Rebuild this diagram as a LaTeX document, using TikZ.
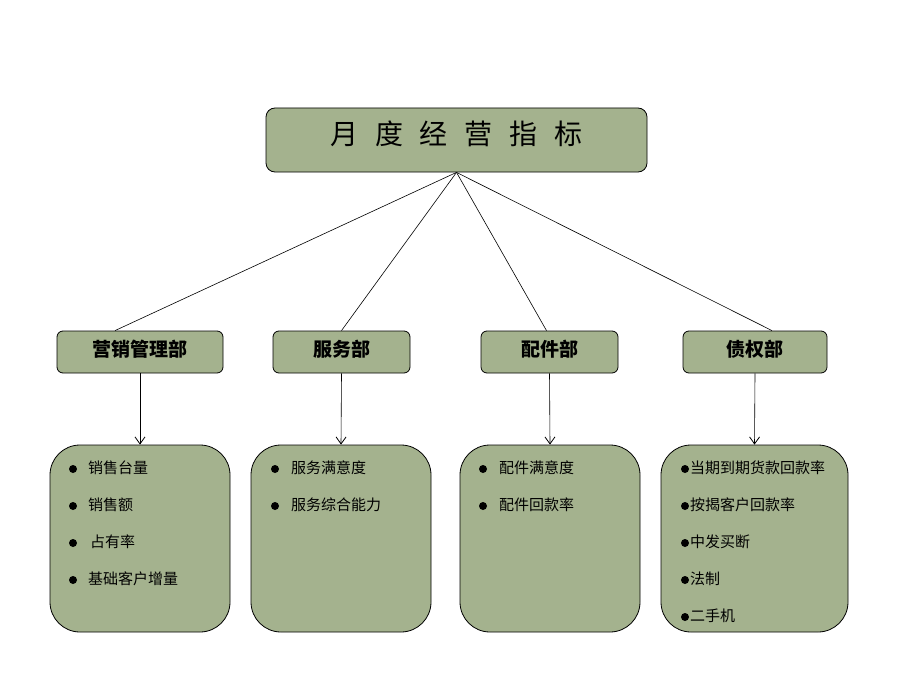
\documentclass[tikz,border=0pt]{standalone}
\usepackage{fontspec}
\newfontfamily\cjk{Noto Sans CJK SC}
\usetikzlibrary{arrows.meta}
\definecolor{boxgreen}{RGB}{164,178,142}
\begin{document}
\begin{tikzpicture}[x=1pt,y=-1pt,
  titlebox/.style={draw=black,fill=boxgreen,rounded corners=9pt,line width=0.8pt,minimum width=381pt,minimum height=64pt,font=\cjk\fontsize{28}{30}\selectfont,inner sep=0pt,text height=26pt,text depth=17pt},
  deptbox/.style={draw=black,fill=boxgreen,rounded corners=6pt,line width=0.8pt,minimum height=42pt,font=\cjk\bfseries\fontsize{19}{22}\selectfont,inner sep=0pt,text height=18pt,text depth=9.6pt},
  listbox/.style={draw=black,fill=boxgreen,rounded corners=30pt,line width=0.8pt,minimum width=180pt,minimum height=187pt,inner sep=0pt},
  item/.style={anchor=west,inner sep=0pt,font=\cjk\fontsize{15}{17}\selectfont},
  dot/.style={circle,fill=black,inner sep=0pt,minimum size=8pt},
  link/.style={draw=black,line width=0.6pt},
  arr/.style={draw=black,line width=0.6pt,-{Straight Barb[length=7pt,width=10pt,line width=0.8pt]}}]
\useasboundingbox (0,0) rectangle (920,690);
\node[titlebox] (top) at (456.5,140) {月\hspace{17pt}度\hspace{17pt}经\hspace{17pt}营\hspace{17pt}指\hspace{17pt}标};
\node[deptbox,minimum width=166pt] (d1) at (140,352) {营销管理部};
\node[deptbox,minimum width=137pt] (d2) at (341.5,352) {服务部};
\node[deptbox,minimum width=137pt] (d3) at (549.5,352) {配件部};
\node[deptbox,minimum width=144pt] (d4) at (755,352) {债权部};
\node[listbox] (l1) at (140,538.5) {};
\node[listbox] (l2) at (341,538.5) {};
\node[listbox] (l3) at (550,538.5) {};
\node[listbox,minimum width=187pt] (l4) at (754.5,538.5) {};
\draw[link] (top.south) -- ([xshift=-25pt]d1.north);
\draw[link] (top.south) -- (d2.north);
\draw[link] (top.south) -- ([xshift=-3pt]d3.north);
\draw[link] (top.south) -- ([xshift=17pt]d4.north);
\draw[arr] (d1.south) -- (l1.north);
\draw[arr] (d2.south) -- (l2.north);
\draw[arr] (d3.south) -- (l3.north);
\draw[arr] (d4.south) -- (l4.north);
% list 1
\node[dot] (b11) at (73,469) {}; \node[item] (t11) at (88,468) {销售台量};
\node[dot] (b12) at (73,506) {}; \node[item] (t12) at (88,505) {销售额};
\node[dot] (b13) at (73,543) {}; \node[item] (t13) at (90,542) {占有率};
\node[dot] (b14) at (73,580) {}; \node[item] (t14) at (88,579) {基础客户增量};
% list 2
\node[dot] (b21) at (275,469) {}; \node[item] (t21) at (291,468) {服务满意度};
\node[dot] (b22) at (275,506) {}; \node[item] (t22) at (291,505) {服务综合能力};
% list 3
\node[dot] (b31) at (483,469) {}; \node[item] (t31) at (499,468) {配件满意度};
\node[dot] (b32) at (483,506) {}; \node[item] (t32) at (499,505) {配件回款率};
% list 4
\node[dot] (b41) at (685,469) {}; \node[item] (t41) at (690,468) {当期到期货款回款率};
\node[dot] (b42) at (685,506) {}; \node[item] (t42) at (690,505) {按揭客户回款率};
\node[dot] (b43) at (685,543) {}; \node[item] (t43) at (690,542) {中发买断};
\node[dot] (b44) at (685,580) {}; \node[item] (t44) at (690,579) {法制};
\node[dot] (b45) at (685,617) {}; \node[item] (t45) at (690,616) {二手机};
\end{tikzpicture}
\end{document}
